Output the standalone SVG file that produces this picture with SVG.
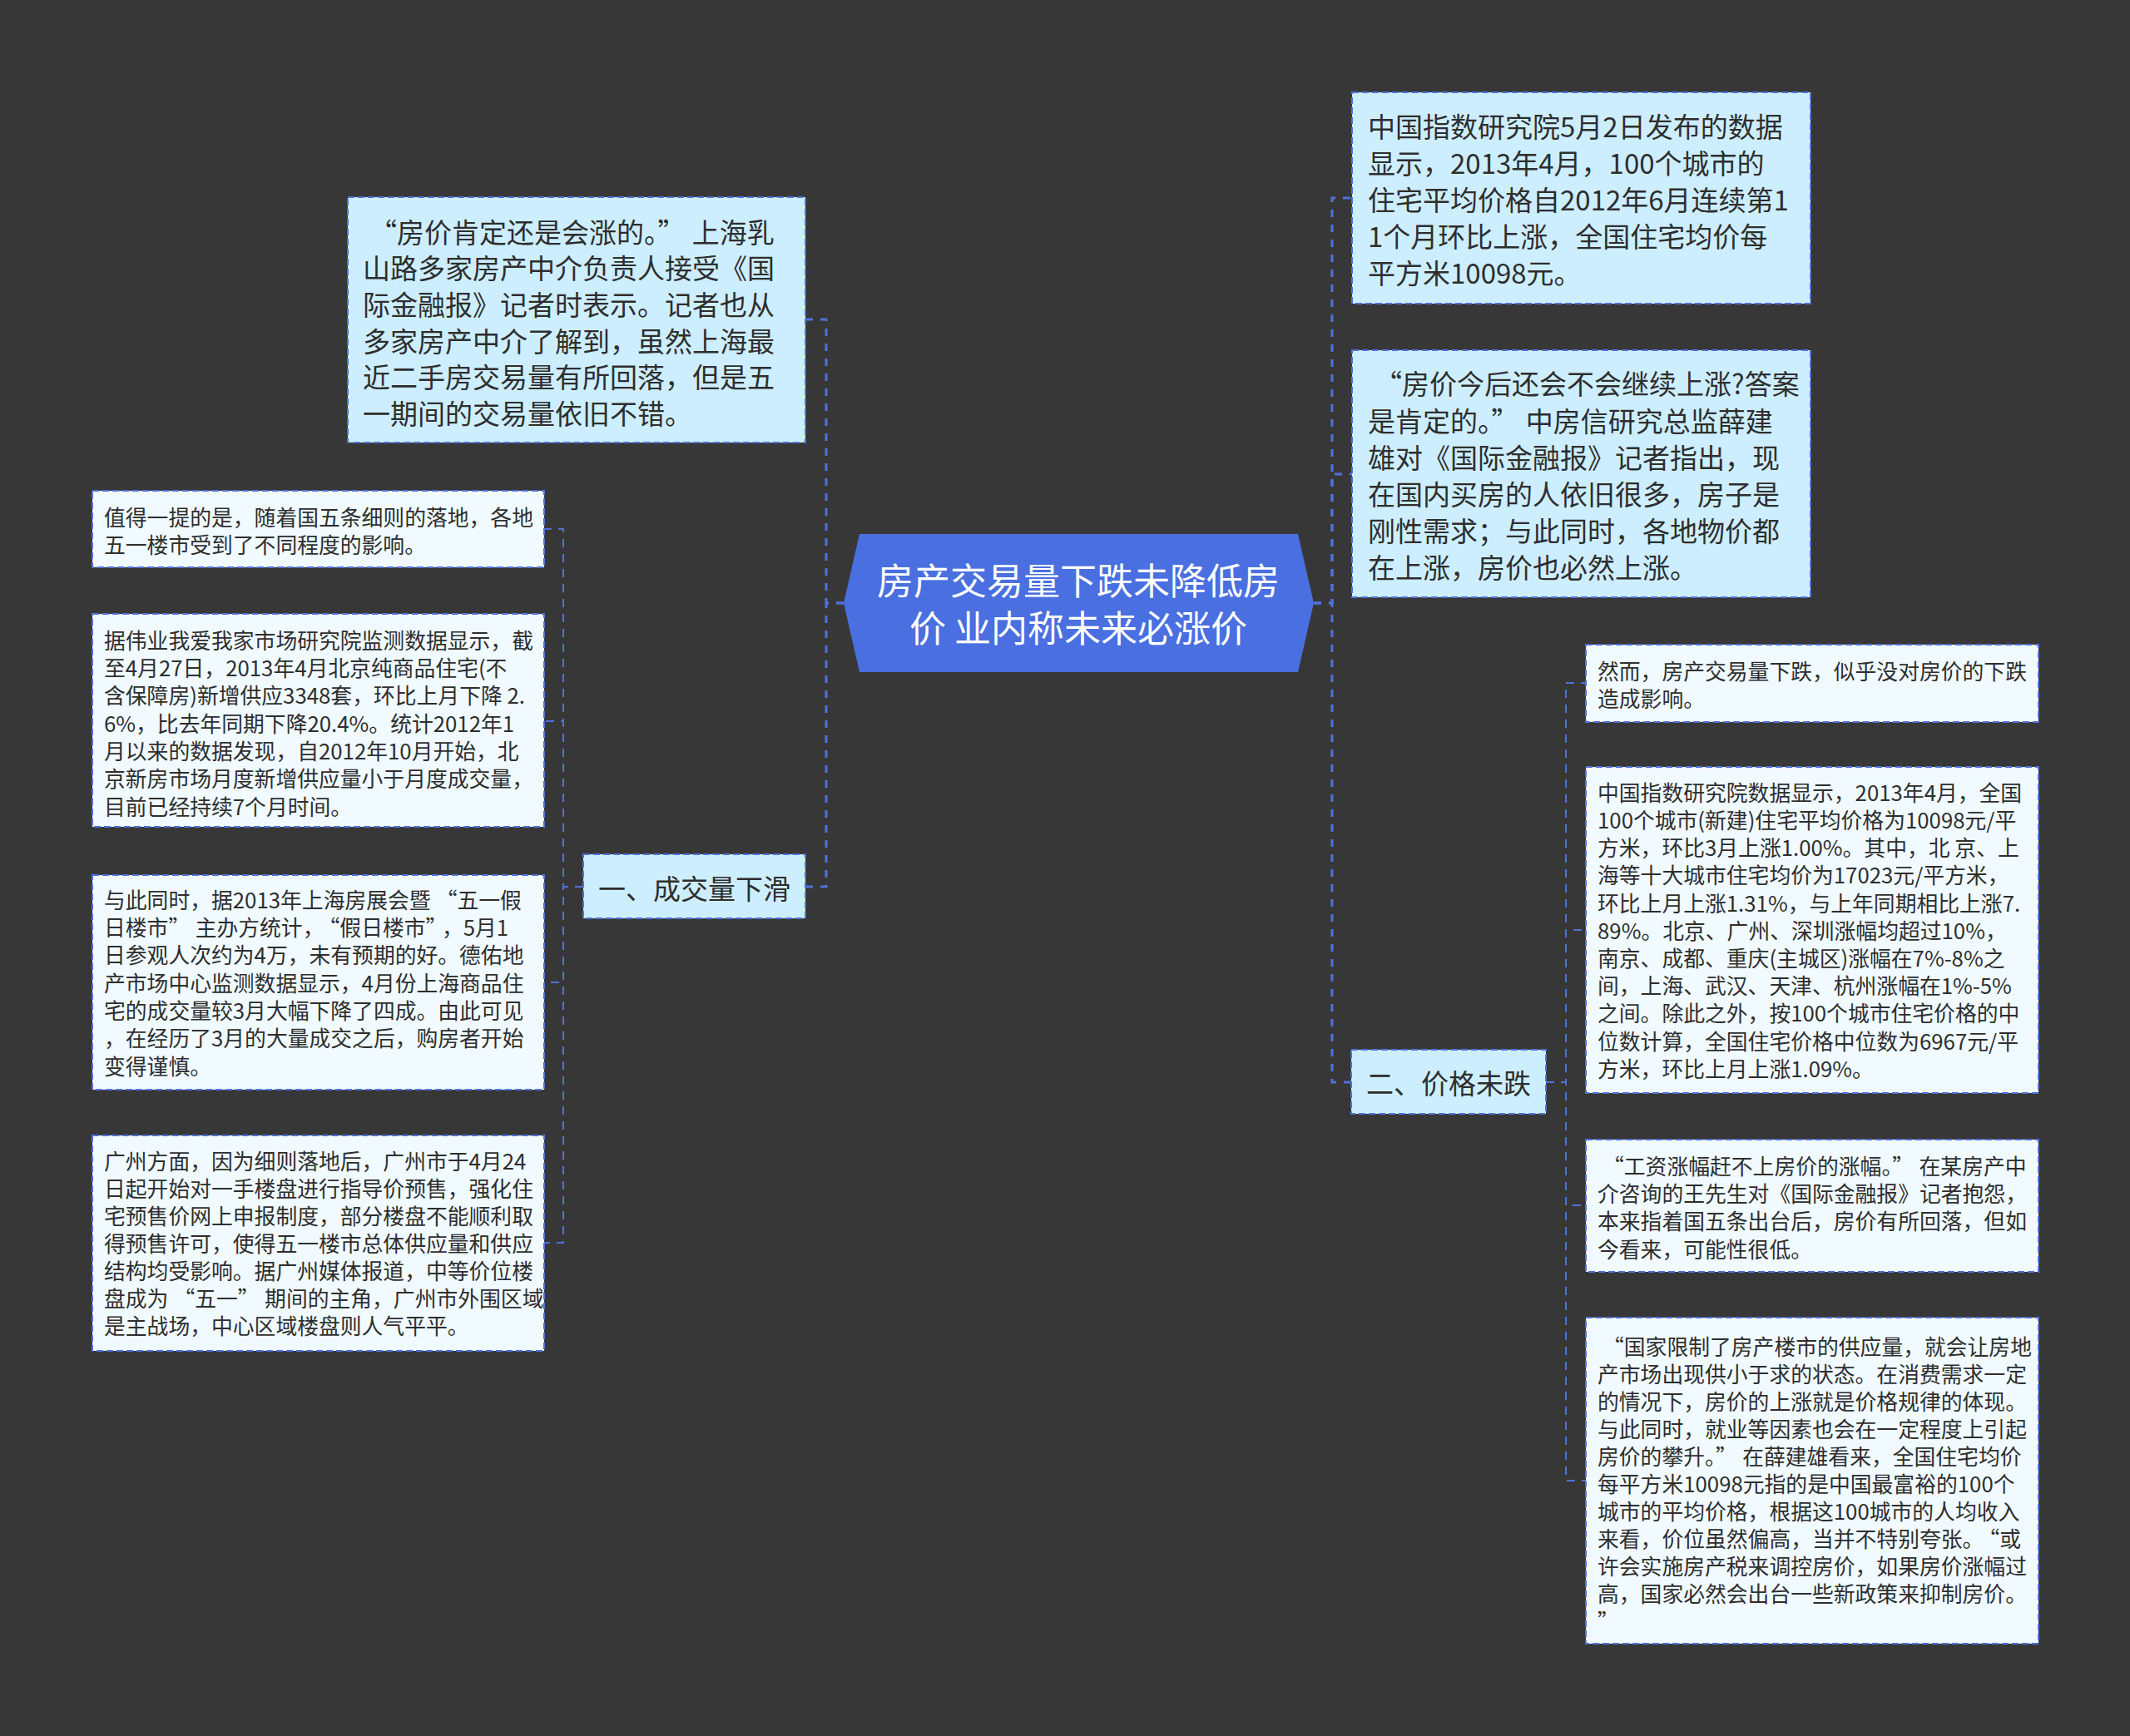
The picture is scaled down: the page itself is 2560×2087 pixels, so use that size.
<svg xmlns="http://www.w3.org/2000/svg" width="2560" height="2087" viewBox="0 0 2560 2087">
<style>
.bg{fill:#383738}
.hex{fill:#4A6FE0}
.big{fill:#CDEEFF;stroke:#4F72D9;stroke-width:2;stroke-dasharray:8 4}
.small{fill:#F0FAFF;stroke:#4F72D9;stroke-width:2;stroke-dasharray:8 4}
.c1{fill:none;stroke:#4F72D9;stroke-width:3;stroke-dasharray:9 9}
.c2{fill:none;stroke:#4F72D9;stroke-width:2;stroke-dasharray:10 8}
text{font-family:"Noto Sans CJK SC","Noto Sans",sans-serif;fill:#2E2E2E}
.t33{font-size:33px}
.t26{font-size:25.8px}
.root{font-size:44px;fill:#FFFFFF}
.qc{letter-spacing:0.25em}
</style>
<rect class="bg" x="0" y="0" width="2560" height="2087"/>
<g id="connectors">
<path class="c1" d="M1014,725 H993 V384 H968"/>
<path class="c1" d="M1014,725 H993 V1066 H968"/>
<path class="c1" d="M1579,725 H1601 V238 H1625"/>
<path class="c1" d="M1579,725 H1601 V570 H1625"/>
<path class="c1" d="M1579,725 H1601 V1301 H1624"/>
<path class="c2" d="M701,1066 H677 V636 H654"/>
<path class="c2" d="M701,1066 H677 V867 H654"/>
<path class="c2" d="M701,1066 H677 V1181 H654"/>
<path class="c2" d="M701,1066 H677 V1494 H654"/>
<path class="c2" d="M1858,1301 H1882 V821 H1906"/>
<path class="c2" d="M1858,1301 H1882 V1118 H1906"/>
<path class="c2" d="M1858,1301 H1882 V1449 H1906"/>
<path class="c2" d="M1858,1301 H1882 V1780 H1906"/>
</g>
<g id="root">
<polygon class="hex" points="1033,642 1560,642 1579,725 1560,808 1033,808 1014,725"/>
<text class="root" text-anchor="middle"><tspan x="1296" y="714.5">房产交易量下跌未降低房</tspan><tspan x="1296" y="771.5">价 业内称未来必涨价</tspan></text>
</g>
<g id="nodeA">
<rect class="big" x="418" y="237" width="550" height="295"/>
<text class="t33"><tspan x="436" y="291.5"><tspan dx="8">“</tspan>房价肯定还是会涨的。<tspan class="qc">”</tspan>上海乳</tspan><tspan x="436" dy="43.7">山路多家房产中介负责人接受《国</tspan><tspan x="436" dy="43.7">际金融报》记者时表示。记者也从</tspan><tspan x="436" dy="43.7">多家房产中介了解到，虽然上海最</tspan><tspan x="436" dy="43.7">近二手房交易量有所回落，但是五</tspan><tspan x="436" dy="43.7">一期间的交易量依旧不错。</tspan></text>
</g>
<g id="branch1">
<rect class="big" x="701" y="1027" width="267" height="77"/>
<text class="t33" text-anchor="middle" x="834.5" y="1080.5">一、成交量下滑</text>
</g>
<g id="L1">
<rect class="small" x="111" y="590" width="543" height="92"/>
<text class="t26"><tspan x="125" y="631.5">值得一提的是，随着国五条细则的落地，各地</tspan><tspan x="125" dy="33.3">五一楼市受到了不同程度的影响。</tspan></text>
</g>
<g id="L2">
<rect class="small" x="111" y="738" width="543" height="256"/>
<text class="t26"><tspan x="125" y="779.8">据伟业我爱我家市场研究院监测数据显示，截</tspan><tspan x="125" dy="33.33">至4月27日，2013年4月北京纯商品住宅(不</tspan><tspan x="125" dy="33.33">含保障房)新增供应3348套，环比上月下降 2.</tspan><tspan x="125" dy="33.33">6%，比去年同期下降20.4%。统计2012年1</tspan><tspan x="125" dy="33.33">月以来的数据发现，自2012年10月开始，北</tspan><tspan x="125" dy="33.33">京新房市场月度新增供应量小于月度成交量，</tspan><tspan x="125" dy="33.33">目前已经持续7个月时间。</tspan></text>
</g>
<g id="L3">
<rect class="small" x="111" y="1052" width="543" height="258"/>
<text class="t26"><tspan x="125" y="1091.8">与此同时，据2013年上海房展会暨<tspan dx="6">“</tspan>五一假</tspan><tspan x="125" dy="33.33">日楼市<tspan class="qc">”</tspan>主办方统计，<tspan dx="6">“</tspan>假日楼市<tspan class="qc">”</tspan>，5月1</tspan><tspan x="125" dy="33.33">日参观人次约为4万，未有预期的好。德佑地</tspan><tspan x="125" dy="33.33">产市场中心监测数据显示，4月份上海商品住</tspan><tspan x="125" dy="33.33">宅的成交量较3月大幅下降了四成。由此可见</tspan><tspan x="125" dy="33.33">，在经历了3月的大量成交之后，购房者开始</tspan><tspan x="125" dy="33.33">变得谨慎。</tspan></text>
</g>
<g id="L4">
<rect class="small" x="111" y="1365" width="543" height="259"/>
<text class="t26"><tspan x="125" y="1405.8">广州方面，因为细则落地后，广州市于4月24</tspan><tspan x="125" dy="33">日起开始对一手楼盘进行指导价预售，强化住</tspan><tspan x="125" dy="33">宅预售价网上申报制度，部分楼盘不能顺利取</tspan><tspan x="125" dy="33">得预售许可，使得五一楼市总体供应量和供应</tspan><tspan x="125" dy="33">结构均受影响。据广州媒体报道，中等价位楼</tspan><tspan x="125" dy="33">盘成为<tspan dx="6">“</tspan>五一<tspan class="qc">”</tspan>期间的主角，广州市外围区域</tspan><tspan x="125" dy="33">是主战场，中心区域楼盘则人气平平。</tspan></text>
</g>
<g id="R1">
<rect class="big" x="1625" y="111" width="551" height="254"/>
<text class="t33"><tspan x="1644" y="164.5">中国指数研究院5月2日发布的数据</tspan><tspan x="1644" dy="44">显示，2013年4月，100个城市的</tspan><tspan x="1644" dy="44">住宅平均价格自2012年6月连续第1</tspan><tspan x="1644" dy="44">1个月环比上涨，全国住宅均价每</tspan><tspan x="1644" dy="44">平方米10098元。</tspan></text>
</g>
<g id="R2">
<rect class="big" x="1625" y="421" width="551" height="297"/>
<text class="t33"><tspan x="1644" y="474.3"><tspan dx="8">“</tspan>房价今后还会不会继续上涨?答案</tspan><tspan x="1644" dy="44.2">是肯定的。<tspan class="qc">”</tspan>中房信研究总监薛建</tspan><tspan x="1644" dy="44.2">雄对《国际金融报》记者指出，现</tspan><tspan x="1644" dy="44.2">在国内买房的人依旧很多，房子是</tspan><tspan x="1644" dy="44.2">刚性需求；与此同时，各地物价都</tspan><tspan x="1644" dy="44.2">在上涨，房价也必然上涨。</tspan></text>
</g>
<g id="branch2">
<rect class="big" x="1624" y="1262" width="234" height="77"/>
<text class="t33" text-anchor="middle" x="1741" y="1314.5">二、价格未跌</text>
</g>
<g id="R3">
<rect class="small" x="1906" y="775" width="544" height="93"/>
<text class="t26"><tspan x="1920" y="817">然而，房产交易量下跌，似乎没对房价的下跌</tspan><tspan x="1920" dy="33">造成影响。</tspan></text>
</g>
<g id="R4">
<rect class="small" x="1906" y="922" width="544" height="392"/>
<text class="t26"><tspan x="1920" y="962.8">中国指数研究院数据显示，2013年4月，全国</tspan><tspan x="1920" dy="33.2">100个城市(新建)住宅平均价格为10098元/平</tspan><tspan x="1920" dy="33.2">方米，环比3月上涨1.00%。其中，北 京、上</tspan><tspan x="1920" dy="33.2">海等十大城市住宅均价为17023元/平方米，</tspan><tspan x="1920" dy="33.2">环比上月上涨1.31%，与上年同期相比上涨7.</tspan><tspan x="1920" dy="33.2">89%。北京、广州、深圳涨幅均超过10%，</tspan><tspan x="1920" dy="33.2">南京、成都、重庆(主城区)涨幅在7%-8%之</tspan><tspan x="1920" dy="33.2">间，上海、武汉、天津、杭州涨幅在1%-5%</tspan><tspan x="1920" dy="33.2">之间。除此之外，按100个城市住宅价格的中</tspan><tspan x="1920" dy="33.2">位数计算，全国住宅价格中位数为6967元/平</tspan><tspan x="1920" dy="33.2">方米，环比上月上涨1.09%。</tspan></text>
</g>
<g id="R5">
<rect class="small" x="1906" y="1370" width="544" height="159"/>
<text class="t26"><tspan x="1920" y="1411.8"><tspan dx="6">“</tspan>工资涨幅赶不上房价的涨幅。<tspan class="qc">”</tspan>在某房产中</tspan><tspan x="1920" dy="33.3">介咨询的王先生对《国际金融报》记者抱怨，</tspan><tspan x="1920" dy="33.3">本来指着国五条出台后，房价有所回落，但如</tspan><tspan x="1920" dy="33.3">今看来，可能性很低。</tspan></text>
</g>
<g id="R6">
<rect class="small" x="1906" y="1584" width="544" height="392"/>
<text class="t26"><tspan x="1920" y="1628.8"><tspan dx="6">“</tspan>国家限制了房产楼市的供应量，就会让房地</tspan><tspan x="1920" dy="33">产市场出现供小于求的状态。在消费需求一定</tspan><tspan x="1920" dy="33">的情况下，房价的上涨就是价格规律的体现。</tspan><tspan x="1920" dy="33">与此同时，就业等因素也会在一定程度上引起</tspan><tspan x="1920" dy="33">房价的攀升。<tspan class="qc">”</tspan>在薛建雄看来，全国住宅均价</tspan><tspan x="1920" dy="33">每平方米10098元指的是中国最富裕的100个</tspan><tspan x="1920" dy="33">城市的平均价格，根据这100城市的人均收入</tspan><tspan x="1920" dy="33">来看，价位虽然偏高，当并不特别夸张。<tspan dx="6">“</tspan>或</tspan><tspan x="1920" dy="33">许会实施房产税来调控房价，如果房价涨幅过</tspan><tspan x="1920" dy="33">高，国家必然会出台一些新政策来抑制房价。</tspan><tspan x="1920" dy="33">”</tspan></text>
</g>
</svg>
